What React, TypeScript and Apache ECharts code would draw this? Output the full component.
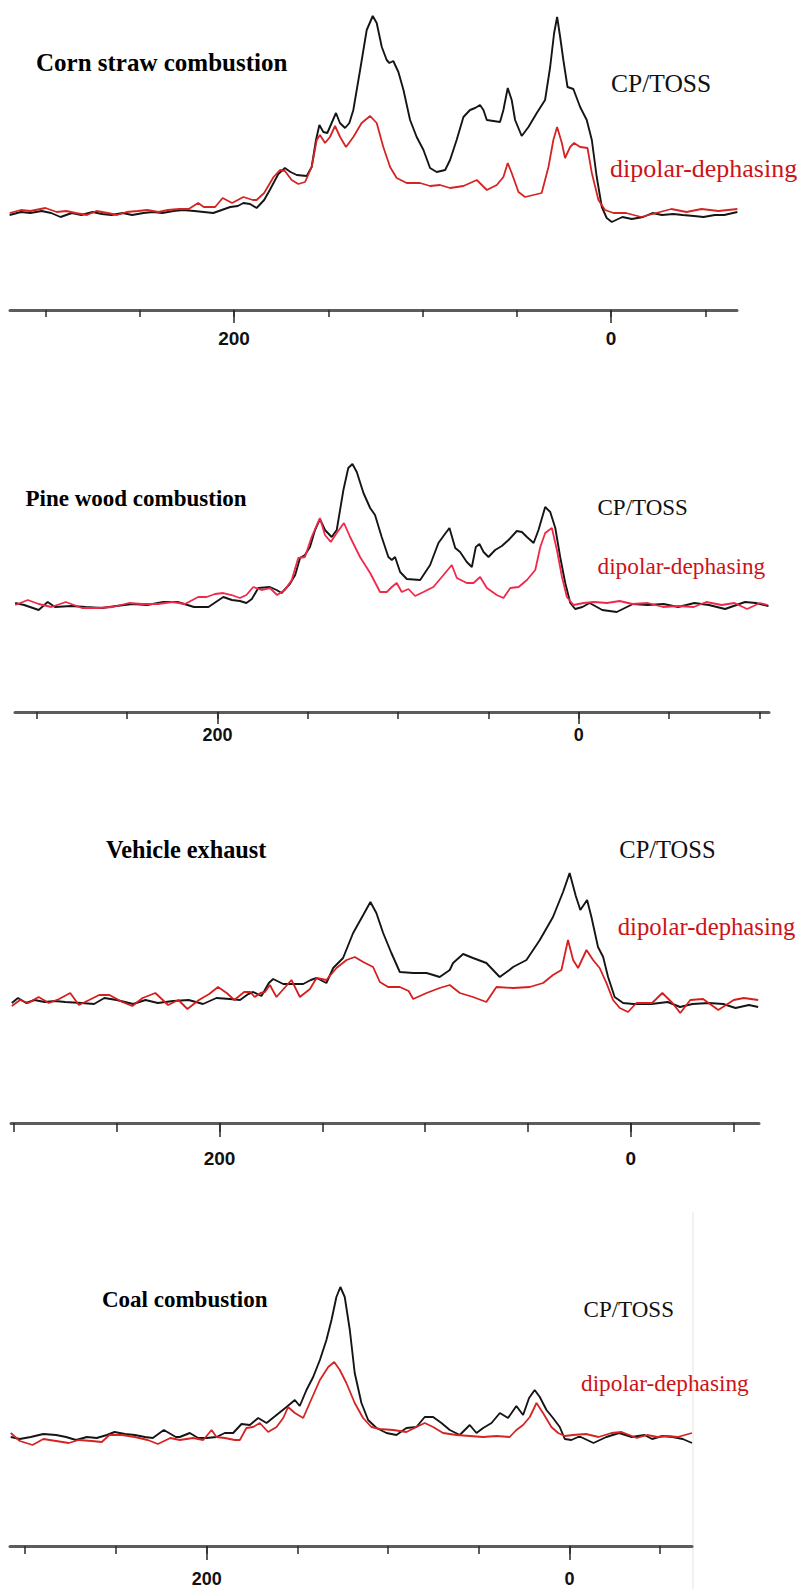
import React, { useEffect, useRef } from "react";
import * as echarts from "echarts";

// ---- Data: [chemical shift (ppm), intensity above baseline] ----
const CORN_CP: [number, number][] = [
  [319,-3],[313,0],[308,-1],[302,1],[297,-1],[292,-5],[286,-1],[281,-3],[275,0],[270,-2],[265,-3],[259,-1],[254,-3],[248,-1],[243,0],[238,-1],[232,1],[227,2],[221,1],[216,0],[211,-1],[205,3],[202,5],[198,6],[195,9],[191.5,8],[188,4],[184,12],[181,22],[176.5,38],[173,44],[170,40],[166.7,37],[161.4,36],[158.8,45],[156.5,72],[154.7,87],[152.6,80],[150.5,79],[148.2,89],[145.9,99],[143.8,89],[141.1,84],[138.8,89],[136.7,102],[133.1,142],[129.6,182],[126.4,196],[124.3,189],[121.6,165],[119,152],[117.6,149],[115.5,151],[112.8,140],[110.1,122],[106.6,92],[103.1,75],[99.5,62],[96,44],[92.5,40],[88,42],[85.4,52],[81.9,72],[78.3,95],[74.8,102],[72.1,104],[69.5,107],[67.7,102],[65.9,92],[62.4,91],[58.9,90],[57.1,102],[54.8,124],[52.7,112],[50.9,92],[47.4,76],[43.8,85],[39.4,99],[35,112],[32.3,145],[30.2,179],[28.6,195],[27,175],[25.3,152],[23.1,125],[20,123],[16.4,105],[12.9,92],[10.2,72],[7.6,35],[4.9,5],[2.3,-6],[-0.4,-10],[-6,-5],[-11,-7],[-17,-5],[-22,-1],[-27,-3],[-33,-2],[-38,-3],[-44,-4],[-49,-5],[-55,-3],[-60,-3],[-67,0]
];
const CORN_DD: [number, number][] = [
  [319,-1],[313,2],[308,1],[300,4],[294,0],[289,1],[284,-1],[278,-3],[273,1],[267,-1],[262,-3],[257,0],[251,1],[246,2],[240,0],[235,2],[229,3],[224,3],[219,9],[216,5],[210,5],[206,14],[201,9],[195,15],[190,12],[188,12],[184,19],[179,35],[175.6,42],[173,41],[169.4,32],[165.9,28],[162.3,30],[158.8,45],[156.1,72],[154.4,77],[151.7,69],[149.1,75],[146.4,86],[143.7,75],[140.6,65],[136.7,75],[132.3,89],[127.8,96],[124.3,89],[120.8,65],[117.2,45],[113.7,34],[108.4,29],[101.3,29],[96,26],[90.7,27],[85.4,24],[78.3,26],[71.2,32],[65.9,22],[60.6,27],[57.1,35],[54.8,49],[52.7,39],[49.1,20],[45.6,15],[41.2,17],[36.8,19],[33.2,45],[30.6,72],[28.6,85],[26.1,69],[24.4,54],[21.7,65],[19.6,69],[16.4,65],[12.5,64],[10.2,39],[6.7,12],[3.2,2],[-1.3,-1],[-8,-1],[-16,-5],[-24,-1],[-32,3],[-40,0],[-48,3],[-57,1],[-67,3]
];
const PINE_CP: [number, number][] = [
  [312,2],[307,0],[299,-5],[294,3],[290,-2],[281,-1],[273,-2],[264,-3],[256,-1],[247,1],[239,0],[230,3],[222,3],[213,-2],[205,-2],[196.8,8],[192,5],[187.6,4],[184,2],[181,6],[177.4,17],[171,18],[167.3,15],[164.5,12],[160,21],[157,30],[154.3,47],[151.6,50],[148.8,58],[146,75],[143.3,86],[140.5,75],[136.8,68],[134,75],[130.3,115],[127.6,137],[125.3,141],[122.9,133],[119.2,112],[115.5,97],[112.8,90],[109.1,68],[105.4,48],[103.5,45],[101.7,48],[98.9,33],[95.2,26],[87.8,25],[82.3,40],[77.7,62],[74.5,70],[71.6,77],[68.4,57],[65.7,53],[62,43],[59.2,38],[57,58],[55,61],[52.7,53],[50,48],[46.3,55],[42.6,59],[38.9,65],[34.3,74],[31.5,73],[28.7,68],[25,62],[22.3,75],[18.6,98],[15.8,93],[13,77],[10.3,48],[7.5,22],[4.7,2],[2,-4],[-2,-2],[-6,2],[-13,-5],[-21,-7],[-30,1],[-38,0],[-47,1],[-55,-2],[-64,2],[-72,0],[-81,-4],[-92,3],[-98,2],[-105,-1]
];
const PINE_DD: [number, number][] = [
  [312,0],[305,5],[299,1],[292,-2],[284,3],[275,-3],[267,-3],[258,-2],[249,2],[242,1],[233,1],[225,3],[218,1],[210.7,8],[206,8],[201.4,11],[196.8,12],[192.2,10],[187.6,7],[184,10],[180.2,18],[175.6,15],[171,17],[167,10],[162.7,15],[158.9,25],[155.3,47],[151.6,48],[147.9,68],[143.3,87],[140.5,70],[137.3,63],[134,72],[130,82],[126.6,68],[121.1,48],[115.5,32],[110,13],[106.3,13],[103.5,18],[100.8,22],[98,13],[94.3,16],[90.6,9],[86,13],[80.5,18],[74.9,30],[70.3,40],[67.5,27],[62,22],[58.3,22],[54.6,28],[50.9,17],[45.4,10],[41.7,7],[37.9,17],[33.3,18],[28.7,25],[24.1,35],[21.3,58],[18.6,72],[14.9,77],[12.1,55],[9.3,28],[6.6,8],[2.9,0],[-2.7,2],[-8.5,3],[-15.6,2],[-22.6,4],[-29.7,1],[-38.2,2],[-46.6,-2],[-55.1,-1],[-63.6,-2],[-70.6,3],[-79.1,0],[-86.2,2],[-93.2,-4],[-100.3,2],[-104.5,0]
];
const VEHICLE_CP: [number, number][] = [
  [301,-2],[298,3],[294,-2],[290,1],[285,-1],[280,0],[275,-1],[267,-2],[261,-3],[256,3],[250,1],[242,-3],[236,1],[230,-2],[222.5,0],[215,1],[208,-3],[201.5,3],[195,2],[190,1],[186,7],[183.6,9],[179.6,5],[176,18],[173.9,22],[169,17],[163,17],[159.3,17],[155.6,21],[152.8,23],[148,18],[144.7,33],[139.9,43],[135,68],[130.1,86],[126.6,99],[123.7,88],[120.4,68],[116.4,48],[112.3,29],[105.8,28],[99.3,28],[96,26],[92.9,24],[88,31],[86.4,38],[81.5,47],[76.7,43],[70.2,38],[63.7,24],[59,31],[57.2,34],[50.7,41],[44.2,61],[37.8,84],[32.9,109],[29.7,128],[26.7,105],[24.5,91],[21.2,101],[19.1,84],[15.9,54],[13.4,44],[11,24],[7.8,4],[3.7,-2],[-1.2,-3],[-10,-3],[-18,-1],[-24,-6],[-30,-3],[-38,-2],[-45,-3],[-51,-7],[-57.5,-4],[-62,-6]
];
const VEHICLE_DD: [number, number][] = [
  [301,-5],[297,1],[293,-2],[288,4],[283,-2],[278,2],[272.6,8],[268.4,-4],[263.4,1],[258.5,6],[253.5,6],[247.3,-1],[242.4,-5],[237.4,3],[231.2,8],[225,-4],[220,1],[215.6,-8],[210,1],[205,7],[200.7,14],[196.5,8],[192.8,1],[188,9],[185,9],[182.9,4],[180,8],[177.9,9],[175.5,16],[172.3,4],[168,14],[165,21],[160.9,4],[156,12],[152.8,23],[148,21],[143.1,33],[138.2,41],[134.2,44],[130.1,39],[125.3,34],[122,19],[118,14],[112.3,14],[108,10],[105.8,2],[99.3,8],[92.9,13],[88,16],[83.1,8],[76.7,4],[70.2,-1],[65.3,14],[57.2,13],[49.1,14],[42.6,18],[37.8,26],[33.7,31],[30.5,61],[28,41],[25.6,33],[21.5,51],[18.3,41],[15.1,33],[11.8,18],[8.6,1],[5.3,-7],[1.3,-11],[-2.8,-2],[-5.5,-2],[-10.4,-2],[-15.4,8],[-20.3,-2],[-24.1,-12],[-29,1],[-35.2,2],[-42.6,-9],[-50.1,1],[-55,3],[-62,1]
];
const COAL_CP: [number, number][] = [
  [308,1],[303,-1],[297,1],[290,4],[283,3],[277.5,1],[272,-2],[266,1],[260.6,0],[255,3],[250.8,6],[245,4],[239.6,3],[234,1],[229.7,0],[223.6,8],[217,1],[214.8,1],[209.3,5],[204.7,0],[200,0],[194.6,1],[190,5],[185.4,5],[180.8,14],[176.2,13],[171.6,20],[167,15],[161.5,23],[156,31],[151.4,38],[148.7,32],[145,48],[141.3,61],[137.6,78],[134,98],[131.2,118],[128.5,141],[126.3,151],[123.9,141],[121.1,108],[118.4,65],[114.7,35],[111,18],[106.4,10],[100.9,5],[95.4,3],[89.9,10],[84.4,11],[79.8,21],[75.2,21],[70.6,15],[66,8],[60.5,3],[55,13],[51.3,5],[47.6,10],[43,15],[38.4,25],[33.9,20],[29.3,32],[25.6,23],[22.3,40],[19.2,48],[16.4,41],[12.7,28],[9.1,20],[5.4,11],[2.6,-1],[-1,-2],[-4.7,1],[-6.2,1],[-13.2,-5],[-20.3,1],[-27.3,5],[-34.3,1],[-41.3,3],[-45.5,-1],[-51.2,2],[-56.8,1],[-62.4,-1],[-67.5,-5]
];
const COAL_DD: [number, number][] = [
  [308,5],[303,-3],[296,-7],[290,-1],[283,-3],[276,-5],[270.5,-2],[263.4,-3],[257.8,-4],[253.6,3],[246.6,3],[239.6,1],[232.5,-2],[226.9,-6],[220,0],[214.8,-2],[207.5,0],[201.9,-2],[197.3,8],[194.6,1],[190,0],[184.5,-2],[181.7,-2],[178.1,10],[174.4,11],[170.7,15],[166.1,6],[161.5,11],[157.8,20],[155.1,31],[151.4,25],[146.8,20],[143.2,35],[137.6,58],[133,71],[129.7,76],[126.6,68],[123,55],[118.4,35],[113.8,20],[109.2,11],[104.6,9],[97.2,8],[89.9,6],[84.4,11],[79.8,15],[75.2,11],[69.7,5],[62.3,3],[55,2],[47.6,1],[40.3,2],[33,1],[29.3,8],[25.6,13],[21.9,21],[18.2,35],[14.6,25],[10,11],[6.3,5],[2.6,2],[-1.9,3],[-9,4],[-16,1],[-23.1,5],[-28.7,6],[-37.1,0],[-42.7,3],[-48.4,1],[-54,2],[-59.6,1],[-67.5,5]
];

const PANEL_TITLES = ["Corn straw combustion", "Pine wood combustion", "Vehicle exhaust", "Coal combustion"];
const SERIES_NAMES = ["CP/TOSS", "dipolar-dephasing"];
const TICK_VALUES = [300, 250, 200, 150, 100, 50, 0, -50, -100];
const TICK_LABELS = [200, 0];

const PANEL_DATA = [
  [CORN_CP, CORN_DD],
  [PINE_CP, PINE_DD],
  [VEHICLE_CP, VEHICLE_DD],
  [COAL_CP, COAL_DD],
];

// ---- Layout (pixels) ----
const LAYOUT = [
  { left: 10, width: 727, top: 0, height: 310, yMin: -98, yMax: 212, xMin: -66.8, xMax: 318.8,
    minorLen: 7, majorLen: 13, labelMargin: 19, labelSize: 19,
    title: { x: 36, y: 62.5, size: 25 }, cp: { x: 611, y: 83, size: 25.5 }, dd: { x: 610, y: 168, size: 26 },
    ddColor: "#d42424" },
  { left: 15, width: 754, top: 400, height: 312, yMin: -107, yMax: 205, xMin: -105.3, xMax: 312.1,
    minorLen: 7, majorLen: 12, labelMargin: 14, labelSize: 18,
    title: { x: 25.5, y: 498.7, size: 23 }, cp: { x: 597.5, y: 507.2, size: 23 }, dd: { x: 597.5, y: 566, size: 23.3 },
    ddColor: "#f0284a" },
  { left: 11, width: 748, top: 800, height: 323, yMin: -122, yMax: 201, xMin: -62.4, xMax: 301.4,
    minorLen: 9, majorLen: 14, labelMargin: 26, labelSize: 19,
    title: { x: 106, y: 849, size: 24.3 }, cp: { x: 619.3, y: 849, size: 24.5 }, dd: { x: 617.7, y: 926.7, size: 24.7 },
    ddColor: "#d61e1e" },
  { left: 10, width: 682, top: 1200, height: 346, yMin: -108, yMax: 238, xMin: -67.5, xMax: 308.4,
    minorLen: 8, majorLen: 14, labelMargin: 24, labelSize: 18,
    title: { x: 102, y: 1299, size: 23 }, cp: { x: 583.6, y: 1309, size: 23 }, dd: { x: 581, y: 1382.8, size: 23.3 },
    ddColor: "#d42424" },
];

const TEXT_RED = "#cc1418";

function buildOption() {
  const grid: any[] = [];
  const xAxis: any[] = [];
  const yAxis: any[] = [];
  const series: any[] = [];
  const graphic: any[] = [];

  PANEL_DATA.forEach(([cp, dd], i) => {
    const L = LAYOUT[i];
    grid.push({ left: L.left, top: L.top, width: L.width, height: L.height, containLabel: false });
    const ticks = TICK_VALUES.filter((v) => v >= L.xMin && v <= L.xMax);
    xAxis.push({
      type: "value", gridIndex: i, position: "bottom", inverse: true, min: L.xMin, max: L.xMax,
      axisLine: { show: true, onZero: false, lineStyle: { color: "#5c5c5c", width: 3 } },
      axisTick: { show: true, customValues: ticks, length: L.minorLen, lineStyle: { color: "#2a2a2a", width: 1.5 } },
      axisLabel: { show: false },
      splitLine: { show: false },
    });
    xAxis.push({
      type: "value", gridIndex: i, position: "bottom", inverse: true, min: L.xMin, max: L.xMax,
      axisLine: { show: false, onZero: false },
      axisTick: { show: true, customValues: TICK_LABELS, length: L.majorLen, lineStyle: { color: "#2a2a2a", width: 1.5 } },
      axisLabel: {
        show: true, customValues: TICK_LABELS, margin: L.labelMargin,
        fontFamily: "'Liberation Sans', Arial, sans-serif", fontWeight: "bold", fontSize: L.labelSize, color: "#111",
      },
      splitLine: { show: false },
    });
    yAxis.push({ type: "value", gridIndex: i, min: L.yMin, max: L.yMax, show: false });

    series.push({
      name: SERIES_NAMES[0], type: "line", xAxisIndex: 2 * i, yAxisIndex: i, data: cp,
      showSymbol: false, symbol: "none", lineStyle: { color: "#151515", width: 1.9 }, z: 3,
    });
    series.push({
      name: SERIES_NAMES[1], type: "line", xAxisIndex: 2 * i, yAxisIndex: i, data: dd,
      showSymbol: false, symbol: "none", lineStyle: { color: L.ddColor, width: 1.8 }, z: 4,
    });

    const mk = (t: string, pos: any, color: string, bold: boolean) => ({
      type: "text", x: pos.x, y: pos.y, silent: true,
      style: {
        text: t, x: 0, y: 0, fill: color,
        font: `${bold ? "bold " : ""}${pos.size}px 'Liberation Serif', 'Times New Roman', serif`,
        textAlign: "left", textVerticalAlign: "middle", align: "left", verticalAlign: "middle",
      },
    });
    graphic.push(mk(PANEL_TITLES[i], L.title, "#000", true));
    graphic.push(mk(SERIES_NAMES[0], L.cp, "#111", false));
    graphic.push(mk(SERIES_NAMES[1], L.dd, TEXT_RED, false));
  });

  graphic.push({
    type: "line", silent: true,
    shape: { x1: 693, y1: 1212, x2: 693, y2: 1589 },
    style: { stroke: "#e4e4e4", lineWidth: 1 },
  });

  return {
    animation: false,
    backgroundColor: "#ffffff",
    grid, xAxis, yAxis, series, graphic,
  };
}

export default function App() {
  const ref = useRef<HTMLDivElement>(null);
  useEffect(() => {
    if (!ref.current) return;
    const chart = echarts.init(ref.current, undefined, { renderer: "svg" });
    chart.setOption(buildOption() as any);
    return () => chart.dispose();
  }, []);
  return (
    <div
      ref={ref}
      style={{ position: "absolute", left: 0, top: 0, width: 800, height: 1589, background: "#fff" }}
    />
  );
}
